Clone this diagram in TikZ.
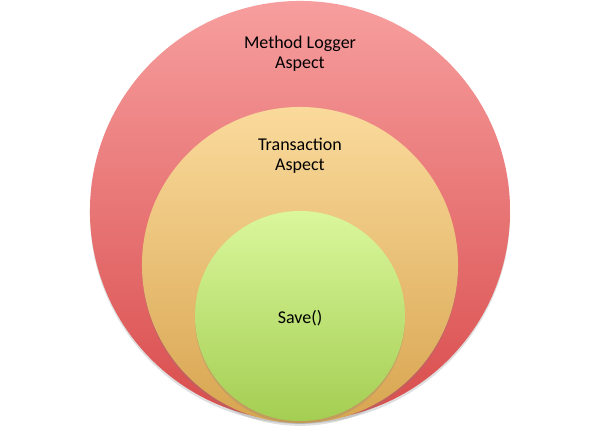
\documentclass[tikz,border=0pt]{standalone}
\usepackage{fontspec}
\setmainfont{Carlito}
\usetikzlibrary{shadows}
\begin{document}
\begin{tikzpicture}[x=0.025cm, y=-0.025cm]
\tikzset{
  ring/.style={circle, inner sep=0pt, draw=none,
    drop shadow={shadow xshift=0pt, shadow yshift=-2pt, opacity=0.25}},
  caption/.style={align=center, font=\fontsize{12.8}{14.5}\selectfont, text=black}
}
\useasboundingbox (0,0) rectangle (600,427);

\node[ring, minimum size=10.5cm, top color={rgb,255:red,247;green,158;blue,158},
  bottom color={rgb,255:red,217;green,76;blue,76}] (logger) at (300,211) {};
\node[ring, minimum size=7.9cm, top color={rgb,255:red,250;green,218;blue,156},
  bottom color={rgb,255:red,216;green,165;blue,80}] (trans) at (300,265) {};
\node[ring, minimum size=5.25cm, top color={rgb,255:red,218;green,247;blue,156},
  bottom color={rgb,255:red,164;green,206;blue,82}] (save) at (300,316) {};

\node[caption] (loggertext) at (300,54) {Method Logger\\Aspect};
\node[caption] (transtext) at (300,156) {Transaction\\Aspect};
\node[caption] (savetext) at (300,318) {Save()};
\end{tikzpicture}
\end{document}
